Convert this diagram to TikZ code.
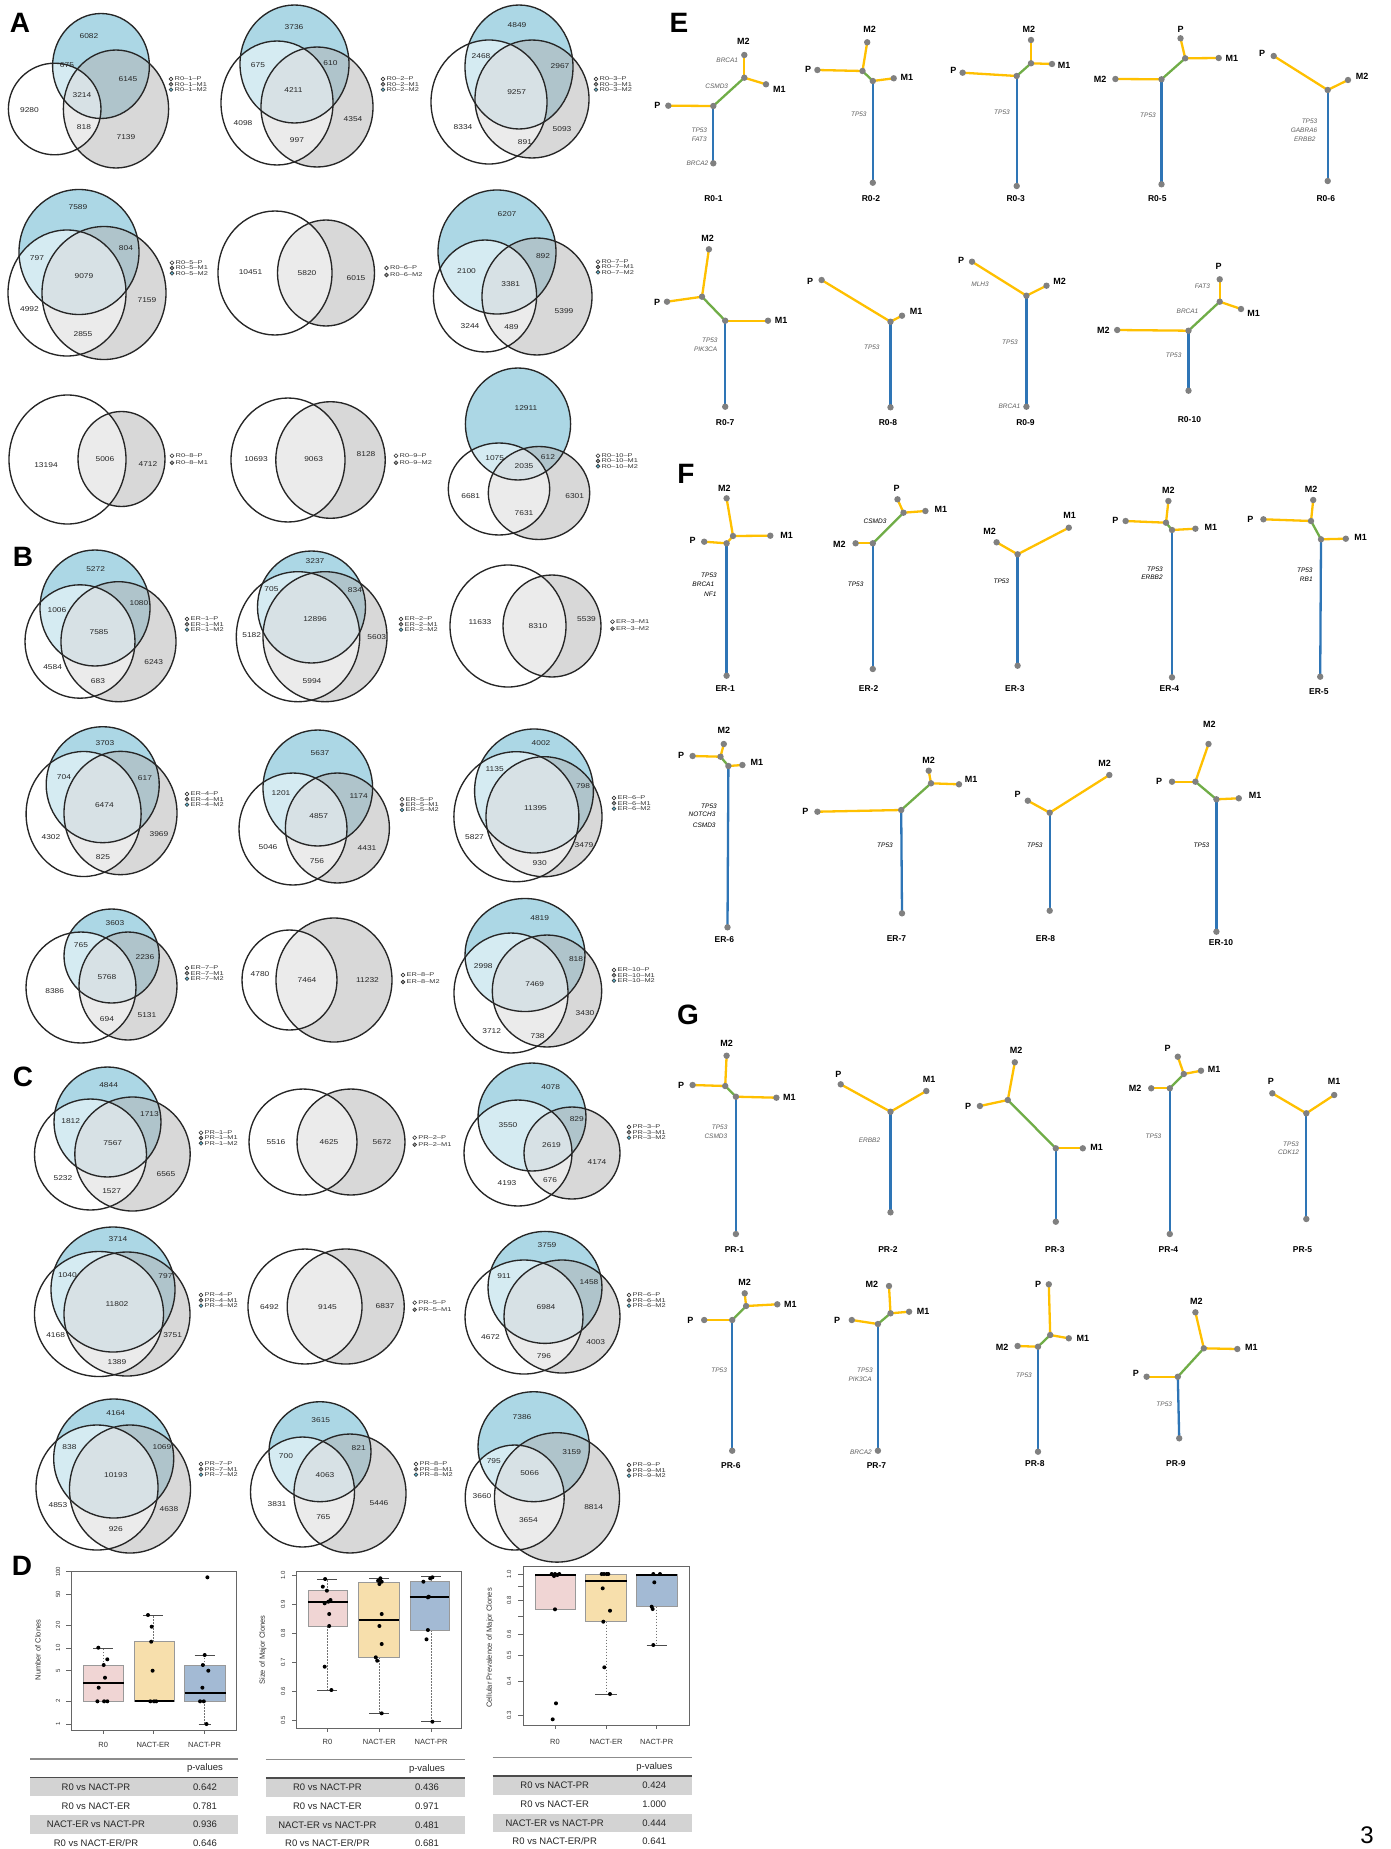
\documentclass[tikz,border=0pt]{standalone}
\usepackage{fontspec}
\setmainfont{Liberation Sans}
\newfontfamily\vfont[FakeStretch=1.2]{Liberation Sans}
\newfontfamily\lfont[FakeStretch=1.35]{Liberation Sans}
\definecolor{vblue}{RGB}{91,177,205}
\definecolor{vgray}{RGB}{179,179,179}
\definecolor{tY}{RGB}{255,192,0}
\definecolor{tG}{RGB}{112,173,71}
\definecolor{tB}{RGB}{46,117,182}
\definecolor{tDot}{RGB}{128,128,128}
\definecolor{bxR}{RGB}{240,213,212}
\definecolor{bxE}{RGB}{247,223,172}
\definecolor{bxP}{RGB}{163,186,212}
\definecolor{rowg}{RGB}{211,211,211}
\definecolor{genec}{RGB}{95,95,95}
\newcount\nn
\newcommand\lab[3]{\global\advance\nn by 1\relax\node[#1] (n\the\nn) at (#2) {#3};}
\newcommand\vn[2]{\lab{vnum}{#1}{#2}}
\newcommand\C[2]{\coordinate (#1) at (#2);}
\newcommand\tdot[1]{\foreach \q in {#1}{\fill[tDot] (\q) circle (3.2pt);}}
\newcommand\VIII[6]{%
 \fill[vblue,fill opacity=.5] (#5) ellipse (#6);
 \fill[vgray,fill opacity=.5] (#3) ellipse (#4);
 \fill[white,fill opacity=.5] (#1) ellipse (#2);
 \draw[vline] (#1) ellipse (#2);
 \draw[vline] (#3) ellipse (#4);
 \draw[vline] (#5) ellipse (#6);}
\newcommand\VII[4]{%
 \fill[vgray,fill opacity=.5] (#3) ellipse (#4);
 \fill[white,fill opacity=.5] (#1) ellipse (#2);
 \draw[vline] (#1) ellipse (#2);
 \draw[vline] (#3) ellipse (#4);}
\newcommand\legIII[3]{%
 \filldraw[lgc,fill=white] (#1,#2) circle (1.9pt);
 \filldraw[lgc,fill=vgray!85!black] (#1,#2+5.3) circle (1.9pt);
 \filldraw[lgc,fill=vblue] (#1,#2+10.6) circle (1.9pt);
 \lab{lgt}{#1+3.5,#2}{#3–P}
 \lab{lgt}{#1+3.5,#2+5.3}{#3–M1}
 \lab{lgt}{#1+3.5,#2+10.6}{#3–M2}}
\newcommand\legII[5]{%
 \filldraw[lgc,fill=white] (#1,#2) circle (1.9pt);
 \filldraw[lgc,fill=vgray!85!black] (#1,#2+7) circle (1.9pt);
 \lab{lgt}{#1+3.5,#2}{#3–#4}
 \lab{lgt}{#1+3.5,#2+7}{#3–#5}}
\newcommand\bxp[6]{\filldraw[fill=#6,draw=black!40,line width=0.5pt] (#1,#3) rectangle (#2,#4);
 \draw[line width=1.8pt] (#1,#5) -- (#2,#5);}
\newcommand\whk[4]{\draw[black!55,dash pattern=on 1.5pt off 1.5pt,line width=0.5pt] (#1,#2) -- (#1,#3);
 \draw[black!70,line width=0.6pt] (#1-#4,#3) -- (#1+#4,#3);}
\newcommand\bp[1]{\foreach \a/\b in {#1}{\fill (\a,\b) circle (2pt);}}
\newcommand\ptab[9]{%
 \fill[rowg] (#1,1777.5+#9) rectangle (#2,1796+#9);
 \fill[rowg] (#1,1815+#9) rectangle (#2,1833.5+#9);
 \draw[black!45,line width=1.8pt] (#1,1759+#9) -- (#2,1759+#9);
 \draw[black!70,line width=1.4pt] (#1,1777.5+#9) -- (#2,1777.5+#9);
 \lab{tbt}{#4,1768.5+#9}{p-values}
 \lab{tbt}{#3,1787+#9}{R0 vs NACT-PR}\lab{tbt}{#4,1787+#9}{#5}
 \lab{tbt}{#3,1806+#9}{R0 vs NACT-ER}\lab{tbt}{#4,1806+#9}{#6}
 \lab{tbt}{#3,1824.5+#9}{NACT-ER vs NACT-PR}\lab{tbt}{#4,1824.5+#9}{#7}
 \lab{tbt}{#3,1843+#9}{R0 vs NACT-ER/PR}\lab{tbt}{#4,1843+#9}{#8}}
\begin{document}
\begin{tikzpicture}[x=1pt,y=-1pt,
 vline/.style={draw=black!85,line width=1.35pt},
 vnum/.style={font=\vfont\fontsize{7}{7}\selectfont,inner sep=0,text=black!85},
 lgc/.style={draw=black!80,line width=0.6pt},
 lgt/.style={anchor=west,font=\lfont\fontsize{5.5}{5.5}\selectfont,inner sep=0,text=black!80},
 pl/.style={font=\bfseries\fontsize{28}{28}\selectfont,inner sep=0},
 yl/.style={draw=tY,line width=2.3pt,line cap=round},
 gr/.style={draw=tG,line width=2.3pt,line cap=round},
 bl/.style={draw=tB,line width=2.3pt,line cap=round},
 tl/.style={font=\bfseries\fontsize{9}{9}\selectfont,inner sep=0},
 tn/.style={font=\bfseries\fontsize{8.5}{8.5}\selectfont,inner sep=0},
 gn/.style={font=\itshape\fontsize{6.5}{6.5}\selectfont,inner sep=0,text=genec},
 gne/.style={gn,anchor=east},
 gf/.style={font=\itshape\fontsize{6.5}{6.5}\selectfont,inner sep=0,text=black},
 axc/.style={draw=black!60,line width=0.6pt},
 tk/.style={font=\fontsize{6}{6}\selectfont,inner sep=0,rotate=90,text=black!80},
 ct/.style={font=\fontsize{7.5}{7.5}\selectfont,inner sep=0,text=black!80},
 axt/.style={font=\fontsize{7.5}{7.5}\selectfont,inner sep=0,rotate=90,text=black!80},
 tbt/.style={font=\fontsize{9.5}{9.5}\selectfont,inner sep=0,text=black!85}]
\useasboundingbox (0,0) rectangle (1390,1849);
\fill[white] (0,0) rectangle (1390,1849);
% ---------------- Panel letters
\lab{pl}{20,23}{A}
\lab{pl}{23,557}{B}
\lab{pl}{23,1077}{C}
\lab{pl}{22,1566}{D}
\lab{pl}{679,23}{E}
\lab{pl}{686,474}{F}
\lab{pl}{688,1015}{G}
% ---------------- Panel A
\VIII{54.7,109}{46.3pt and 45.8pt}{116,109}{52.6pt and 59pt}{101,66}{48.4pt and 52.5pt}
\vn{89,36}{6082}\vn{67,65}{675}\vn{128,79}{6145}\vn{82,95}{3214}\vn{29.5,110}{9280}\vn{84,127}{818}\vn{126,137}{7139}
\legIII{171}{79}{R0–1}
\VIII{277,103}{56pt and 62pt}{317,107}{56pt and 60pt}{294.5,64}{54.5pt and 59pt}
\vn{294,27}{3736}\vn{258,65}{675}\vn{330.5,63}{610}\vn{293.4,90}{4211}\vn{243,123}{4098}\vn{353,119}{4354}\vn{297,140}{997}
\legIII{383}{79}{R0–2}
\VIII{489,102}{58pt and 62pt}{532,99}{57pt and 59pt}{519,67}{54pt and 62pt}
\vn{517,25}{4849}\vn{481,56}{2468}\vn{560,66}{2967}\vn{516.6,92}{9257}\vn{463,127}{8334}\vn{562,129}{5093}\vn{525,142}{891}
\legIII{596}{79}{R0–3}
\VIII{67,293}{59pt and 63pt}{104,293}{62pt and 66.5pt}{79,252}{60pt and 62.5pt}
\vn{78,207}{7589}\vn{37,258}{797}\vn{126,248}{804}\vn{84,276}{9079}\vn{147,300}{7159}\vn{29.5,309}{4992}\vn{83,334}{2855}
\legIII{172}{262.7}{R0–5}
\VII{275,273}{57pt and 62pt}{326,273}{48.5pt and 53pt}
\vn{250.5,271.7}{10451}\vn{307,272.7}{5820}\vn{356,278}{6015}
\legII{386.5}{268}{R0–6}{P}{M2}
\VIII{485,296}{51.6pt and 56pt}{537,296.5}{55pt and 58.5pt}{497,252}{59pt and 62pt}
\vn{507,214}{6207}\vn{543,256}{892}\vn{466.5,270.7}{2100}\vn{510.7,284}{3381}\vn{564,310.7}{5399}\vn{470,326}{3244}\vn{511.5,326.7}{489}
\legIII{598}{261.7}{R0–7}
\VII{67.5,459.5}{58.5pt and 64.5pt}{121.5,459}{43.5pt and 47.5pt}
\vn{46,465}{13194}\vn{105,459}{5006}\vn{148,464}{4712}
\legII{172}{455.7}{R0–8}{P}{M1}
\VII{288,460}{57pt and 62pt}{330.5,460}{54.7pt and 58.3pt}
\vn{256,459}{10693}\vn{313.6,459}{9063}\vn{366,454}{8128}
\legII{396}{455.7}{R0–9}{P}{M2}
\VIII{499,489}{50.7pt and 46pt}{539,493}{50.7pt and 46.5pt}{518,424}{52.6pt and 56pt}
\vn{526,408}{12911}\vn{494.7,458}{1075}\vn{548,456.7}{612}\vn{524,465.7}{2035}\vn{470.7,496}{6681}\vn{574.7,496}{6301}\vn{524,512.7}{7631}
\legIII{598}{455.7}{R0–10}
% ---------------- Panel B
\VIII{80,641.5}{55pt and 56.7pt}{118.5,641.7}{57.5pt and 60pt}{95,608}{55pt and 58pt}
\vn{95.6,569}{5272}\vn{57,610}{1006}\vn{139,602.7}{1080}\vn{99,631.7}{7585}\vn{153.7,661.7}{6243}\vn{52.6,667}{4584}\vn{98,681}{683}
\legIII{187}{619}{ER–1}
\VIII{298,636.7}{61.7pt and 65pt}{325,636.7}{62pt and 65pt}{311.5,607}{54pt and 56pt}
\vn{315,560.7}{3237}\vn{271.5,589}{705}\vn{355,590}{834}\vn{315,619}{12896}\vn{251.7,635}{5182}\vn{376.8,637}{5603}\vn{312,680.7}{5994}
\legIII{401}{619}{ER–2}
\VII{508,626}{58pt and 61pt}{552,626}{49pt and 51pt}
\vn{480,621.7}{11633}\vn{538,625.7}{8310}\vn{586.5,619}{5539}
\legII{612.5}{621.7}{ER–3}{M1}{M2}
\VIII{83.6,814}{57.5pt and 62.5pt}{120.5,813}{56.5pt and 61.7pt}{102.7,784.7}{56.5pt and 58pt}
\vn{105,742.7}{3703}\vn{64,776.7}{704}\vn{145,778}{617}\vn{104.4,805}{6474}\vn{159,834}{3969}\vn{51,837}{4302}\vn{103,856.7}{825}
\legIII{187}{794}{ER–4}
\VIII{293,829}{54pt and 56pt}{337.4,828}{52pt and 55pt}{317.8,788}{54.8pt and 58pt}
\vn{320,752.7}{5637}\vn{281,793}{1201}\vn{358.7,796}{1174}\vn{318.7,816}{4857}\vn{268,847.3}{5046}\vn{367,848.3}{4431}\vn{317,860.7}{756}
\legIII{402}{799.3}{ER–5}
\VIII{516.4,816.7}{62.5pt and 65pt}{544,816.7}{58pt and 60pt}{534,791}{59.4pt and 62pt}
\vn{541,742.7}{4002}\vn{494.7,769}{1135}\vn{583,786}{798}\vn{535.5,808.3}{11395}\vn{474.5,837}{5827}\vn{584,845}{3479}\vn{539.7,863}{930}
\legIII{614}{798}{ER–6}
\VIII{81,987.5}{55pt and 55.5pt}{128,986}{49pt and 54pt}{111.6,956}{47.6pt and 47pt}
\vn{115,923.3}{3603}\vn{81,945}{765}\vn{145,957.3}{2236}\vn{107,977.3}{5768}\vn{54.7,990.7}{8386}\vn{107,1019.3}{694}\vn{147,1015}{5131}
\legIII{187}{968}{ER–7}
\VII{289.5,980}{47.5pt and 50pt}{334,980}{58pt and 62pt}
\vn{260,974}{4780}\vn{307,980}{7464}\vn{367.5,980}{11232}
\legII{403}{975}{ER–8}{P}{M2}
\VIII{511,993}{57pt and 60pt}{547,991}{54.7pt and 56pt}{525,955}{60pt and 56.5pt}
\vn{539.7,918.3}{4819}\vn{483.3,966}{2998}\vn{576,959}{818}\vn{534.7,984}{7469}\vn{585,1012.7}{3430}\vn{491.7,1030.7}{3712}\vn{537.6,1035.7}{738}
\legIII{614}{970}{ER–10}
% ---------------- Panel C
\VIII{90.5,1154.5}{56pt and 55.5pt}{132.5,1154}{57.7pt and 57pt}{107.5,1122}{53.5pt and 55pt}
\vn{108.6,1085}{4844}\vn{70.7,1120.7}{1812}\vn{149.5,1114}{1713}\vn{112.8,1143.3}{7567}\vn{166,1174}{6565}\vn{63,1178.3}{5232}\vn{111.6,1190.7}{1527}
\legIII{201}{1132.7}{PR–1}
\VII{303,1142}{54pt and 53pt}{351,1142}{54pt and 53pt}
\vn{276,1142.3}{5516}\vn{329,1141.7}{4625}\vn{382,1141.7}{5672}
\legII{414.7}{1137.7}{PR–2}{P}{M1}
\VIII{518,1153}{54pt and 53pt}{572,1153}{48pt and 46pt}{532,1117}{54pt and 54pt}
\vn{550.7,1086.7}{4078}\vn{508,1125}{3550}\vn{576.8,1119.3}{829}\vn{551.5,1145}{2619}\vn{597,1162.3}{4174}\vn{507,1183.3}{4193}\vn{550,1180}{676}
\legIII{629}{1127}{PR–3}
\VIII{99,1314}{64.5pt and 62.5pt}{127,1314}{63pt and 62pt}{113,1289.5}{62pt and 62.5pt}
\vn{118,1239}{3714}\vn{67.4,1275}{1040}\vn{165.5,1276}{797}\vn{117,1304.3}{11802}\vn{55.6,1335}{4168}\vn{172.6,1335}{3751}\vn{117,1361.7}{1389}
\legIII{201}{1295}{PR–4}
\VII{305,1306.5}{57pt and 57.5pt}{345.7,1306.5}{58.5pt and 57.5pt}
\vn{269.4,1306.7}{6492}\vn{327.5,1306.7}{9145}\vn{385,1306}{6837}
\legII{414.7}{1302.7}{PR–5}{P}{M1}
\VIII{524,1317}{59pt and 57pt}{562,1316.5}{58pt and 56.5pt}{545,1287.4}{57pt and 56pt}
\vn{547,1245}{3759}\vn{504,1276}{911}\vn{589,1281.7}{1458}\vn{546,1306.7}{6984}\vn{490.5,1336.7}{4672}\vn{595.7,1341.7}{4003}\vn{544,1356}{796}
\legIII{629}{1295}{PR–6}
\VIII{97,1487.5}{61pt and 62.5pt}{130,1489}{60.5pt and 64pt}{113.7,1458.5}{60pt and 59.5pt}
\vn{115.8,1413.3}{4164}\vn{69.5,1446.7}{838}\vn{162,1447.3}{1069}\vn{115.8,1475}{10193}\vn{58,1505}{4853}\vn{169,1509.3}{4638}\vn{115.8,1529}{926}
\legIII{201}{1464}{PR–7}
\VIII{302.5,1492}{52pt and 55pt}{350,1493.5}{56pt and 59.5pt}{320,1451.7}{51pt and 50pt}
\vn{320.8,1420}{3615}\vn{286,1455.7}{700}\vn{358.7,1448.3}{821}\vn{325,1475}{4063}\vn{277,1504.3}{3831}\vn{379,1502.7}{5446}\vn{323.3,1517.3}{765}
\legIII{416}{1464}{PR–8}
\VIII{514.7,1497.5}{49.5pt and 52.5pt}{557,1497.4}{62.5pt and 64.7pt}{533.7,1446.7}{55.7pt and 55pt}
\vn{522,1417.3}{7386}\vn{493.8,1460.7}{795}\vn{571.7,1451.7}{3159}\vn{529.6,1473.3}{5066}\vn{482,1496}{3660}\vn{593.6,1506.7}{8814}\vn{528.4,1520}{3654}
\legIII{629}{1465}{PR–9}
% ---------------- Panel D plot 1
\draw[axc] (71,1571.7) rectangle (236.4,1730);
\foreach \v in {1,2,5,10,20,50,100}{\draw[axc] (71,{1724-76.17*log10(\v)}) -- ++(-5,0);
 \lab{tk}{58,{1724-76.17*log10(\v)}}{\v}}
\lab{axt}{38,1650}{Number of Clones}
\foreach \xx in {103.2,153,204.7}{\draw[axc] (\xx,1730) -- ++(0,4);}
\lab{ct}{103.2,1745}{R0}\lab{ct}{153,1745}{NACT-ER}\lab{ct}{204.7,1745}{NACT-PR}
\whk{103.2}{1665}{1647.8}{10}
\bxp{83}{123.6}{1665}{1701.3}{1682.7}{bxR}
\whk{153}{1641.7}{1615}{10}
\bxp{134.5}{174.3}{1641.7}{1701.3}{1701.3}{bxE}
\whk{204.7}{1665}{1655}{10}\whk{204.7}{1701.3}{1724}{6}
\bxp{184.7}{225.5}{1665}{1701.3}{1693.3}{bxP}
\bp{98.3/1647.7,107.3/1659.3,103.7/1665,105/1677.7,98.7/1687.7,97.4/1701.3,104.1/1701.3,107.3/1701.3}
\bp{148/1615,151.7/1626.7,151.2/1641.7,152.6/1670.7,150.3/1701.3,154/1701.3,156.2/1701.3}
\bp{207.4/1577.3,204.7/1655,202.9/1665,208.3/1670.7,202.4/1687.7,200.1/1701.3,203.8/1701.3,206.5/1724}
% ---------------- plot 2
\draw[axc] (296.6,1571.7) rectangle (461,1728.3);
\foreach \v/\t in {0/1.0,1/0.9,2/0.8,3/0.7,4/0.6,5/0.5}{\draw[axc] (296.6,{1575.7+28.86*\v}) -- ++(-5,0);
 \lab{tk}{283,{1575.7+28.86*\v}}{\t}}
\lab{axt}{263,1650}{Size of Major Clones}
\foreach \xx in {327.4,379.4,431.1}{\draw[axc] (\xx,1728.3) -- ++(0,4);}
\lab{ct}{327.4,1742}{R0}\lab{ct}{379.4,1742}{NACT-ER}\lab{ct}{431.1,1742}{NACT-PR}
\whk{327.4}{1590.7}{1579}{10}\whk{327.4}{1626}{1690}{10}
\bxp{307.9}{347.7}{1590.7}{1626}{1602.3}{bxR}
\whk{379.4}{1582.7}{1578.3}{10}\whk{379.4}{1657.3}{1713.3}{10}
\bxp{358.6}{399.4}{1582.7}{1657.3}{1619.7}{bxE}
\whk{431.1}{1581.7}{1576.7}{10}\whk{431.1}{1630}{1721.7}{10}
\bxp{409.8}{449.2}{1581.7}{1630}{1596.7}{bxP}
\bp{325.1/1579,322.8/1586.7,326.9/1590.7,330.5/1600,328.3/1601.7,324.7/1603.3,329.2/1614,329.2/1626,324.7/1666.7,331.4/1690}
\bp{380.4/1578.3,378.1/1580.7,381.7/1581.7,379.4/1584,381.7/1614,379.4/1626,381.7/1644,375.8/1657.3,377.2/1660.7,381.7/1713.3}
\bp{432.4/1577.3,430.2/1578.3,423.4/1581.7,428.8/1596.7,427.9/1597.3,427.9/1630,426.5/1639.3,432.4/1721.7}
% ---------------- plot 3
\draw[axc] (523.3,1566) rectangle (689.3,1725);
\foreach \v in {1.0,0.9,0.8,0.7,0.6,0.5,0.4,0.3}{\draw[axc] (523.3,{1574-270*log10(\v)}) -- ++(-5,0);}
\foreach \v in {1.0,0.8,0.6,0.5,0.4,0.3}{\lab{tk}{509,{1574-270*log10(\v)}}{\v}}
\lab{axt}{490,1648}{Cellular Prevalence of Major Clones}
\foreach \xx in {555,606,656.7}{\draw[axc] (\xx,1725) -- ++(0,4);}
\lab{ct}{555,1741.7}{R0}\lab{ct}{606,1741.7}{NACT-ER}\lab{ct}{656.7,1741.7}{NACT-PR}
\bxp{535}{575.7}{1574}{1609.3}{1574.7}{bxR}
\whk{606}{1621.7}{1694}{11}
\bxp{585}{626.7}{1574}{1621.7}{1580.7}{bxE}
\whk{656.7}{1606.7}{1645}{10}
\bxp{636}{677.3}{1574}{1606.7}{1574.7}{bxP}
\bp{551.7/1574,555/1574,557.3/1575,554/1576,559.3/1574,555/1609.3,556/1703.3,552.7/1719.3}
\bp{601.7/1574,604/1574,606.7/1574,608.3/1574,602.7/1588.3,610/1610.7,603.3/1621.7,604.3/1667.3,610/1694}
\bp{653.3/1574,660/1574,654.3/1582.3,651.7/1606.7,652.7/1609,653.3/1645}
% ---------------- tables
\ptab{30}{238.3}{96}{205}{0.642}{0.781}{0.936}{0.646}{0}
\ptab{265.8}{465}{327.4}{427}{0.436}{0.971}{0.481}{0.681}{0.5}
\ptab{492.6}{692}{554.7}{654.3}{0.424}{1.000}{0.444}{0.641}{-1.5}
% ---------------- Panel E
\C{e1r}{713.3,163.3}\C{e1a}{713.3,106}\C{e1p}{668.3,105.7}\C{e1b}{744.3,77.7}\C{e1m2}{744.3,55}\C{e1m1}{766,84.3}
\draw[bl] (e1r)--(e1a); \draw[yl] (e1a)--(e1p); \draw[gr] (e1a)--(e1b); \draw[yl] (e1b)--(e1m2); \draw[yl] (e1b)--(e1m1);
\tdot{e1r,e1a,e1p,e1b,e1m2,e1m1}
\lab{tl}{743.3,41.7}{M2}\lab{tl}{779.3,89}{M1}\lab{tl}{657.3,105.7}{P}
\lab{gne}{738.3,60}{BRCA1}\lab{gne}{728.3,86.7}{CSMD3}\lab{gn}{699.3,130}{TP53}\lab{gn}{699.3,139}{FAT3}\lab{gne}{708.5,163.3}{BRCA2}
\lab{tn}{713.5,199}{R0-1}
\C{e2r}{872.8,182.7}\C{e2a}{872.8,81}\C{e2m1}{893.7,78.3}\C{e2b}{862.5,71}\C{e2m2}{867.2,42.3}\C{e2p}{817.4,70}
\draw[bl] (e2r)--(e2a); \draw[yl] (e2a)--(e2m1); \draw[gr] (e2a)--(e2b); \draw[yl] (e2b)--(e2m2); \draw[yl] (e2b)--(e2p);
\tdot{e2r,e2a,e2m1,e2b,e2m2,e2p}
\lab{tl}{869.5,29.3}{M2}\lab{tl}{808,69.3}{P}\lab{tl}{906.8,77.3}{M1}\lab{gn}{858.8,114}{TP53}\lab{tn}{871,199}{R0-2}
\C{e3r}{1016.7,186}\C{e3a}{1016.7,76}\C{e3p}{962.6,72.7}\C{e3b}{1031,63.3}\C{e3m2}{1031,40}\C{e3m1}{1052,64}
\draw[bl] (e3r)--(e3a); \draw[yl] (e3a)--(e3p); \draw[gr] (e3a)--(e3b); \draw[yl] (e3b)--(e3m2); \draw[yl] (e3b)--(e3m1);
\tdot{e3r,e3a,e3p,e3b,e3m2,e3m1}
\lab{tl}{1028.8,29.3}{M2}\lab{tl}{1064,65.7}{M1}\lab{tl}{953.3,70}{P}\lab{gn}{1002,112.7}{TP53}\lab{tn}{1015.7,199}{R0-3}
\C{e4r}{1161.5,184.3}\C{e4a}{1161.5,79.3}\C{e4m2}{1115.4,79}\C{e4b}{1185.2,58.3}\C{e4p}{1180.5,38.3}\C{e4m1}{1218.7,58}
\draw[bl] (e4r)--(e4a); \draw[yl] (e4a)--(e4m2); \draw[gr] (e4a)--(e4b); \draw[yl] (e4b)--(e4p); \draw[yl] (e4b)--(e4m1);
\tdot{e4r,e4a,e4m2,e4b,e4p,e4m1}
\lab{tl}{1180.5,29.3}{P}\lab{tl}{1231.8,58.3}{M1}\lab{tl}{1100,79.3}{M2}\lab{gn}{1148,115}{TP53}\lab{tn}{1157.3,199}{R0-5}
\C{e5r}{1327.7,181}\C{e5a}{1327.7,90}\C{e5p}{1273.7,56}\C{e5m2}{1348,80}
\draw[bl] (e5r)--(e5a); \draw[yl] (e5a)--(e5p); \draw[yl] (e5a)--(e5m2);
\tdot{e5r,e5a,e5p,e5m2}
\lab{tl}{1262,53.3}{P}\lab{tl}{1362,76}{M2}\lab{gn}{1309.5,121}{TP53}\lab{gn}{1304,130}{GABRA6}\lab{gn}{1304.8,139}{ERBB2}\lab{tn}{1325.8,199}{R0-6}
\C{e6r}{725.2,406.7}\C{e6a}{725.2,320.7}\C{e6m1}{768,320.7}\C{e6b}{702,296.7}\C{e6m2}{708.9,249.3}\C{e6p}{667,301.7}
\draw[bl] (e6r)--(e6a); \draw[yl] (e6a)--(e6m1); \draw[gr] (e6a)--(e6b); \draw[yl] (e6b)--(e6m2); \draw[yl] (e6b)--(e6p);
\tdot{e6r,e6a,e6m1,e6b,e6m2,e6p}
\lab{tl}{707.5,238.7}{M2}\lab{tl}{781,320}{M1}\lab{tl}{657,302}{P}\lab{gn}{709.8,340.7}{TP53}\lab{gn}{705.6,349.3}{PIK3CA}\lab{tn}{725.2,422.3}{R0-7}
\C{e7r}{890.5,407.3}\C{e7a}{890.5,321.7}\C{e7p}{821.6,280}\C{e7m1}{902,315.7}
\draw[bl] (e7r)--(e7a); \draw[yl] (e7a)--(e7p); \draw[yl] (e7a)--(e7m1);
\tdot{e7r,e7a,e7p,e7m1}
\lab{tl}{810,281}{P}\lab{tl}{916,311}{M1}\lab{gn}{871.8,347.3}{TP53}\lab{tn}{888,422.3}{R0-8}
\C{e8r}{1026.4,406.7}\C{e8a}{1026.4,295.7}\C{e8p}{972,261.7}\C{e8m2}{1046.5,285.7}
\draw[bl] (e8r)--(e8a); \draw[yl] (e8a)--(e8p); \draw[yl] (e8a)--(e8m2);
\tdot{e8r,e8a,e8p,e8m2}
\lab{tl}{961.2,260}{P}\lab{tl}{1059.5,281.7}{M2}\lab{gn}{980,284}{MLH3}\lab{gn}{1010,342.3}{TP53}\lab{gne}{1020.5,406}{BRCA1}\lab{tn}{1025.5,422.3}{R0-9}
\C{e9r}{1188.5,390.7}\C{e9a}{1188.5,330.7}\C{e9m2}{1117.2,330}\C{e9b}{1219.7,301.7}\C{e9p}{1219.7,279.3}\C{e9m1}{1241,309}
\draw[bl] (e9r)--(e9a); \draw[yl] (e9a)--(e9m2); \draw[gr] (e9a)--(e9b); \draw[yl] (e9b)--(e9p); \draw[yl] (e9b)--(e9m1);
\tdot{e9r,e9a,e9m2,e9b,e9p,e9m1}
\lab{tl}{1218.7,266}{P}\lab{tl}{1253.6,313.3}{M1}\lab{tl}{1103.3,330}{M2}\lab{gn}{1202.4,286}{FAT3}\lab{gn}{1187.5,311}{BRCA1}\lab{gn}{1173.6,355}{TP53}\lab{tn}{1189.4,420}{R0-10}
% ---------------- Panel F
\C{f1r}{726.6,675.7}\C{f1a}{726.6,543.3}\C{f1p}{704.2,541.7}\C{f1b}{733,536}\C{f1m2}{726.6,498.3}\C{f1m1}{770.3,535.7}
\draw[bl] (f1r)--(f1a); \draw[yl] (f1a)--(f1p); \draw[yl] (f1a)--(f1b); \draw[yl] (f1b)--(f1m2); \draw[yl] (f1b)--(f1m1);
\tdot{f1r,f1a,f1p,f1b,f1m2,f1m1}
\lab{tl}{724.3,488.3}{M2}\lab{tl}{692.6,540.7}{P}\lab{tl}{786.6,535}{M1}\lab{gf}{709,575}{TP53}\lab{gf}{703.3,584}{BRCA1}\lab{gf}{710.3,594}{NF1}\lab{tn}{725.2,688.3}{ER-1}
\C{f2r}{872.8,669}\C{f2a}{872.8,543.3}\C{f2m2}{855.6,543.3}\C{f2b}{903.5,512.7}\C{f2p}{897.5,499.3}\C{f2m1}{925.4,511}
\draw[bl] (f2r)--(f2a); \draw[yl] (f2a)--(f2m2); \draw[gr] (f2a)--(f2b); \draw[yl] (f2b)--(f2p); \draw[yl] (f2b)--(f2m1);
\tdot{f2r,f2a,f2m2,f2b,f2p,f2m1}
\lab{tl}{896.5,488.3}{P}\lab{tl}{940.8,509.3}{M1}\lab{tl}{839.3,544.3}{M2}\lab{gf}{875,521}{CSMD3}\lab{gf}{855.6,584}{TP53}\lab{tn}{868.6,688.3}{ER-2}
\C{f3r}{1017.6,665.7}\C{f3a}{1017.6,554.3}\C{f3m2}{996.6,542.3}\C{f3m1}{1068.8,527.7}
\draw[bl] (f3r)--(f3a); \draw[yl] (f3a)--(f3m2); \draw[yl] (f3a)--(f3m1);
\tdot{f3r,f3a,f3m2,f3m1}
\lab{tl}{989.6,531}{M2}\lab{tl}{1069.7,515}{M1}\lab{gf}{1001.3,581.7}{TP53}\lab{tn}{1014.8,688.3}{ER-3}
\C{f4r}{1172,677.3}\C{f4a}{1172,530}\C{f4b}{1166,522.7}\C{f4p}{1125.6,521}\C{f4m2}{1168.4,501}\C{f4m1}{1195.4,528.7}
\draw[bl] (f4r)--(f4a); \draw[gr] (f4a)--(f4b); \draw[yl] (f4b)--(f4p); \draw[yl] (f4b)--(f4m2); \draw[yl] (f4a)--(f4m1);
\tdot{f4r,f4a,f4b,f4p,f4m2,f4m1}
\lab{tl}{1168.4,490.7}{M2}\lab{tl}{1115.4,520}{P}\lab{tl}{1210.8,527.7}{M1}\lab{gf}{1155,569.3}{TP53}\lab{gf}{1152,577.7}{ERBB2}\lab{tn}{1169.4,688.3}{ER-4}
\C{f5r}{1320.2,676.7}\C{f5a}{1321,539.3}\C{f5m1}{1345.8,538.7}\C{f5b}{1311,521}\C{f5p}{1263.4,519.3}\C{f5m2}{1313.2,500}
\draw[bl] (f5r)--(f5a); \draw[yl] (f5a)--(f5m1); \draw[gr] (f5a)--(f5b); \draw[yl] (f5b)--(f5p); \draw[yl] (f5b)--(f5m2);
\tdot{f5r,f5a,f5m1,f5b,f5p,f5m2}
\lab{tl}{1311,489.3}{M2}\lab{tl}{1250.4,519.3}{P}\lab{tl}{1360.7,537.7}{M1}\lab{gf}{1304.8,570.7}{TP53}\lab{gf}{1306.3,579.3}{RB1}\lab{tn}{1318.8,691.7}{ER-5}
\C{f6r}{727.5,927.3}\C{f6a}{728.4,766}\C{f6m1}{742.4,765}\C{f6b}{720.5,756.7}\C{f6p}{692.6,756}\C{f6m2}{723.8,744}
\draw[bl] (f6r)--(f6a); \draw[yl] (f6a)--(f6m1); \draw[gr] (f6a)--(f6b); \draw[yl] (f6b)--(f6p); \draw[yl] (f6b)--(f6m2);
\tdot{f6r,f6a,f6m1,f6b,f6p,f6m2}
\lab{tl}{723.8,730.7}{M2}\lab{tl}{681,755.7}{P}\lab{tl}{756.8,762.3}{M1}\lab{gf}{709,806}{TP53}\lab{gf}{702,814.3}{NOTCH3}\lab{gf}{704.2,825}{CSMD3}\lab{tn}{724.3,940}{ER-6}
\C{f7r}{902,913.3}\C{f7a}{901.2,810}\C{f7p}{817.4,811.7}\C{f7b}{931,783.3}\C{f7m2}{928.7,770.7}\C{f7m1}{959,784.3}
\draw[bl] (f7r)--(f7a); \draw[yl] (f7a)--(f7p); \draw[gr] (f7a)--(f7b); \draw[yl] (f7b)--(f7m2); \draw[yl] (f7b)--(f7m1);
\tdot{f7r,f7a,f7p,f7b,f7m2,f7m1}
\lab{tl}{928.7,760}{M2}\lab{tl}{971,779.3}{M1}\lab{tl}{805.3,811.7}{P}\lab{gf}{885,845.7}{TP53}\lab{tn}{896.5,939}{ER-7}
\C{f8r}{1049.7,910.7}\C{f8a}{1049.7,812.7}\C{f8p}{1027.8,800.7}\C{f8m2}{1109.3,775}
\draw[bl] (f8r)--(f8a); \draw[yl] (f8a)--(f8p); \draw[yl] (f8a)--(f8m2);
\tdot{f8r,f8a,f8p,f8m2}
\lab{tl}{1017.6,794.3}{P}\lab{tl}{1104.7,763.3}{M2}\lab{gf}{1034.8,845}{TP53}\lab{tn}{1045.5,939}{ER-8}
\C{f9r}{1216.4,931.7}\C{f9a}{1216.4,799.3}\C{f9m1}{1238.8,798.3}\C{f9b}{1195.4,781.7}\C{f9p}{1172,781.7}\C{f9m2}{1208.5,744}
\draw[bl] (f9r)--(f9a); \draw[yl] (f9a)--(f9m1); \draw[gr] (f9a)--(f9b); \draw[yl] (f9b)--(f9p); \draw[yl] (f9b)--(f9m2);
\tdot{f9r,f9a,f9m1,f9b,f9p,f9m2}
\lab{tl}{1209.4,724}{M2}\lab{tl}{1159,781.7}{P}\lab{tl}{1255,795.7}{M1}\lab{gf}{1201.5,845}{TP53}\lab{tn}{1221,942.3}{ER-10}
% ---------------- Panel G
\C{g1r}{735.9,1234}\C{g1a}{735.9,1096.7}\C{g1m1}{776.4,1097.7}\C{g1b}{725.2,1086}\C{g1p}{692.6,1085}\C{g1m2}{726.6,1055.7}
\draw[bl] (g1r)--(g1a); \draw[yl] (g1a)--(g1m1); \draw[gr] (g1a)--(g1b); \draw[yl] (g1b)--(g1p); \draw[yl] (g1b)--(g1m2);
\tdot{g1r,g1a,g1m1,g1b,g1p,g1m2}
\lab{tl}{726.6,1043.3}{M2}\lab{tl}{681,1085}{P}\lab{tl}{789.4,1097.7}{M1}\lab{gn}{719.6,1127.3}{TP53}\lab{gn}{715.9,1136}{CSMD3}\lab{tn}{734.5,1249.3}{PR-1}
\C{g2r}{890.5,1212.3}\C{g2a}{890.5,1111.7}\C{g2p}{840.7,1084.3}\C{g2m1}{926.3,1091}
\draw[bl] (g2r)--(g2a); \draw[yl] (g2a)--(g2p); \draw[yl] (g2a)--(g2m1);
\tdot{g2r,g2a,g2p,g2m1}
\lab{tl}{838.3,1074}{P}\lab{tl}{929.1,1079.3}{M1}\lab{gn}{869.5,1140}{ERBB2}\lab{tn}{888,1249.3}{PR-2}
\C{g3r}{1055.8,1221.7}\C{g3a}{1055.8,1148.3}\C{g3m1}{1082.8,1148.3}\C{g3b}{1007.8,1100}\C{g3m2}{1014.8,1062.3}\C{g3p}{979.9,1106}
\draw[bl] (g3r)--(g3a); \draw[yl] (g3a)--(g3m1); \draw[gr] (g3a)--(g3b); \draw[yl] (g3b)--(g3m2); \draw[yl] (g3b)--(g3p);
\tdot{g3r,g3a,g3m1,g3b,g3m2,g3p}
\lab{tl}{1016.2,1050.7}{M2}\lab{tl}{968.2,1106}{P}\lab{tl}{1096.7,1147.7}{M1}\lab{tn}{1054.8,1249.3}{PR-3}
\C{g4r}{1169.8,1234}\C{g4a}{1169.8,1088.3}\C{g4m2}{1151.2,1088.3}\C{g4b}{1183.8,1074}\C{g4p}{1177.8,1056.7}\C{g4m1}{1201,1070.7}
\draw[bl] (g4r)--(g4a); \draw[yl] (g4a)--(g4m2); \draw[gr] (g4a)--(g4b); \draw[yl] (g4b)--(g4p); \draw[yl] (g4b)--(g4m1);
\tdot{g4r,g4a,g4m2,g4b,g4p,g4m1}
\lab{tl}{1167.5,1048.3}{P}\lab{tl}{1214,1069}{M1}\lab{tl}{1135,1088.3}{M2}\lab{gn}{1153.5,1136}{TP53}\lab{tn}{1168.4,1249.3}{PR-4}
\C{g5r}{1306.3,1219}\C{g5a}{1306.3,1113.3}\C{g5p}{1272.3,1093.3}\C{g5m1}{1334.2,1095}
\draw[bl] (g5r)--(g5a); \draw[yl] (g5a)--(g5p); \draw[yl] (g5a)--(g5m1);
\tdot{g5r,g5a,g5p,g5m1}
\lab{tl}{1270.9,1081.7}{P}\lab{tl}{1334.2,1081.7}{M1}\lab{gn}{1291,1144}{TP53}\lab{gn}{1288.6,1152.7}{CDK12}\lab{tn}{1302.5,1249.3}{PR-5}
\C{g6r}{732.2,1450.7}\C{g6a}{732.2,1320}\C{g6p}{704.2,1320}\C{g6b}{746.1,1306}\C{g6m2}{744.7,1293.3}\C{g6m1}{777.3,1304.3}
\draw[bl] (g6r)--(g6a); \draw[yl] (g6a)--(g6p); \draw[gr] (g6a)--(g6b); \draw[yl] (g6b)--(g6m2); \draw[yl] (g6b)--(g6m1);
\tdot{g6r,g6a,g6p,g6b,g6m2,g6m1}
\lab{tl}{744.7,1282.7}{M2}\lab{tl}{790.4,1304.3}{M1}\lab{tl}{690.3,1320}{P}\lab{gn}{719.1,1370.7}{TP53}\lab{tn}{730.8,1466}{PR-6}
\C{g7r}{877.9,1450.7}\C{g7a}{877.9,1324}\C{g7p}{851.8,1320}\C{g7b}{890.5,1313.3}\C{g7m2}{889,1286}\C{g7m1}{909.1,1311.7}
\draw[bl] (g7r)--(g7a); \draw[yl] (g7a)--(g7p); \draw[gr] (g7a)--(g7b); \draw[yl] (g7b)--(g7m2); \draw[yl] (g7b)--(g7m1);
\tdot{g7r,g7a,g7p,g7b,g7m2,g7m1}
\lab{tl}{871.8,1284}{M2}\lab{tl}{923,1311}{M1}\lab{tl}{837,1320}{P}\lab{gn}{864.9,1370.7}{TP53}\lab{gn}{860.2,1379.3}{PIK3CA}\lab{gne}{872,1452.3}{BRCA2}\lab{tn}{876.5,1466}{PR-7}
\C{g8r}{1038,1451.7}\C{g8a}{1038,1346.7}\C{g8m2}{1017.6,1346}\C{g8b}{1050.2,1335}\C{g8p}{1048.8,1284.3}\C{g8m1}{1068.8,1338.3}
\draw[bl] (g8r)--(g8a); \draw[yl] (g8a)--(g8m2); \draw[gr] (g8a)--(g8b); \draw[yl] (g8b)--(g8p); \draw[yl] (g8b)--(g8m1);
\tdot{g8r,g8a,g8m2,g8b,g8p,g8m1}
\lab{tl}{1038,1284}{P}\lab{tl}{1082.8,1338.3}{M1}\lab{tl}{1002.2,1347.7}{M2}\lab{gn}{1024,1375}{TP53}\lab{tn}{1034.8,1464}{PR-8}
\C{g9r}{1179.2,1438.3}\C{g9a}{1177.8,1376.7}\C{g9p}{1146.6,1376.7}\C{g9b}{1203.8,1348.3}\C{g9m2}{1195.4,1312.3}\C{g9m1}{1237.3,1349}
\draw[bl] (g9r)--(g9a); \draw[yl] (g9a)--(g9p); \draw[gr] (g9a)--(g9b); \draw[yl] (g9b)--(g9m2); \draw[yl] (g9b)--(g9m1);
\tdot{g9r,g9a,g9p,g9b,g9m2,g9m1}
\lab{tl}{1196.3,1301.7}{M2}\lab{tl}{1251.3,1347.7}{M1}\lab{tl}{1135.9,1373.3}{P}\lab{gn}{1164.2,1404.3}{TP53}\lab{tn}{1175.9,1464}{PR-9}
% page number
\lab{font=\fontsize{24}{24}\selectfont,inner sep=0,anchor=base}{1367,1843}{3}
\end{tikzpicture}
\end{document}
